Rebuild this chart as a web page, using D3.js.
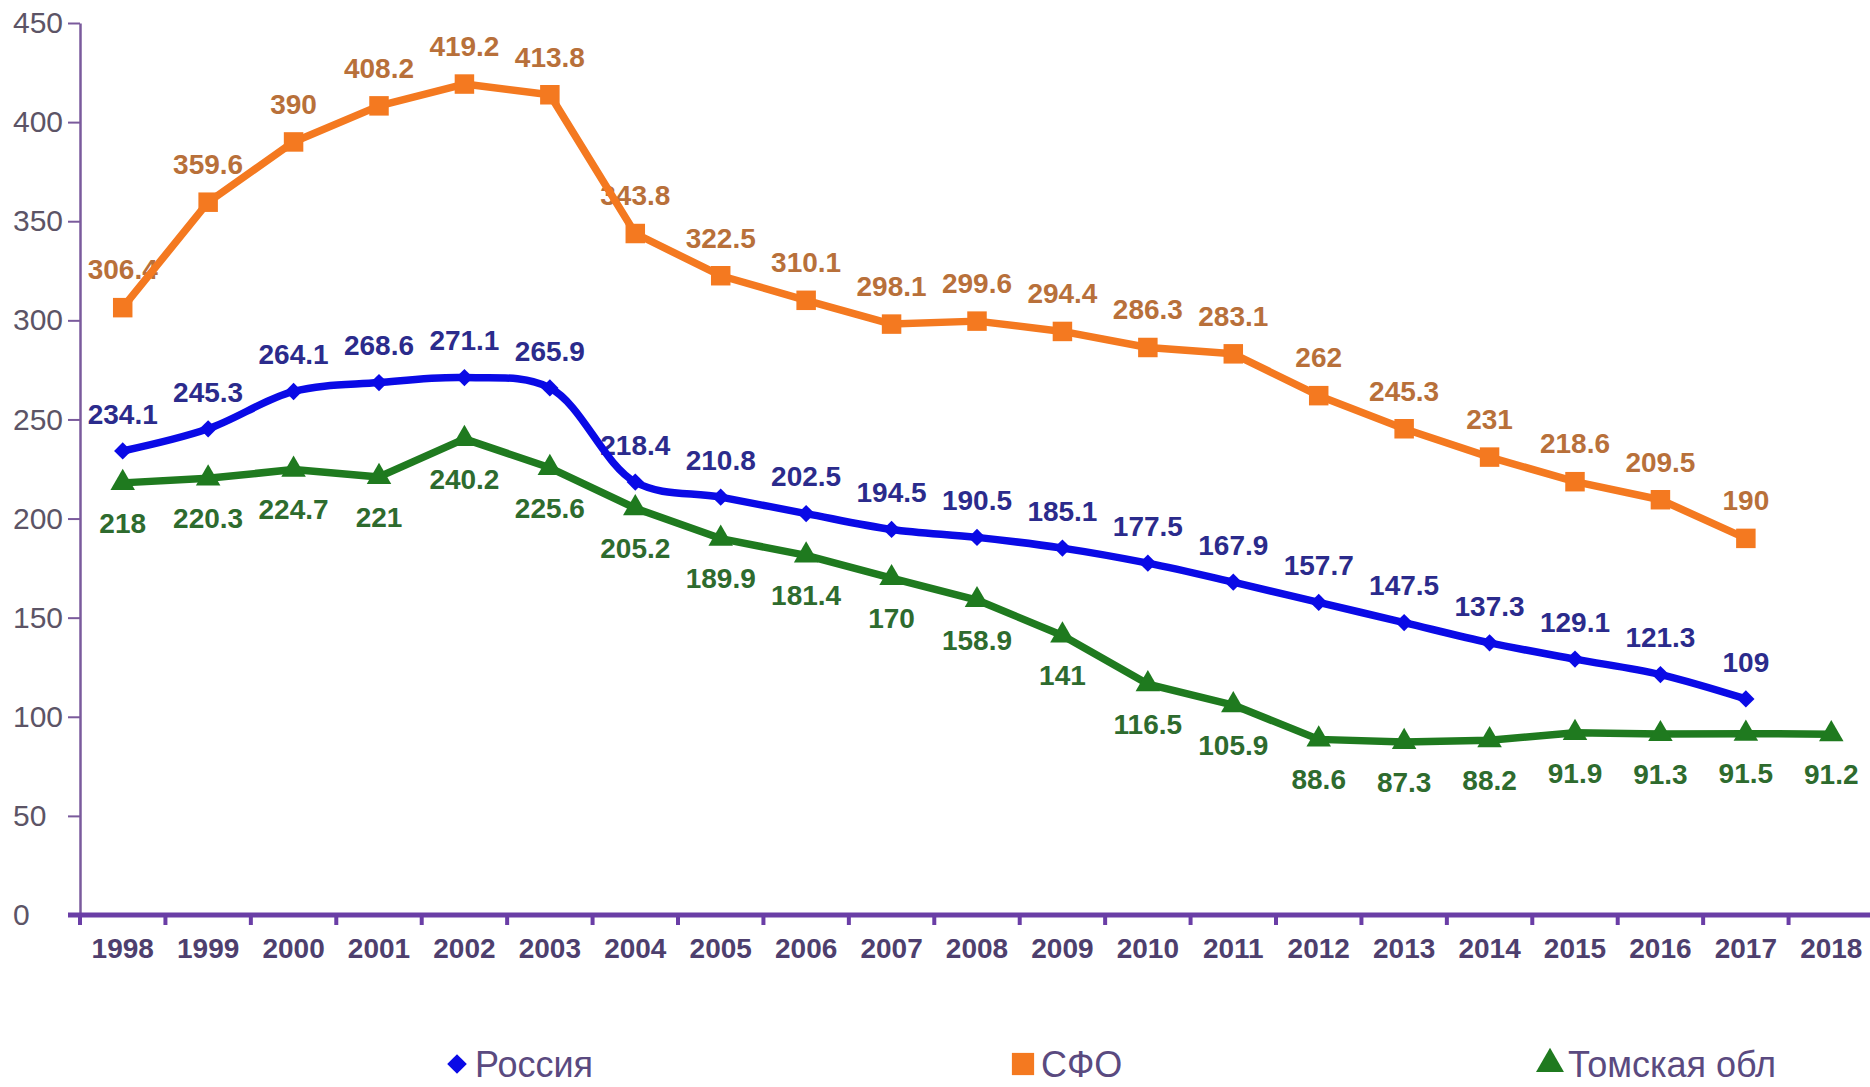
<!DOCTYPE html>
<html>
	<head>
		<meta charset="utf-8">
		<style type="text/css">
			body { margin: 0; background: #fff; }
			svg  { display: block; font-family: "Liberation Sans", Arial, sans-serif; }
			.domain { fill: none; }
		</style>
		<title>Россия / СФО / Томская обл</title>
	</head>
	<body>
		<script src="https://cdn.jsdelivr.net/npm/d3@7"></script>
		<script>

var years   = [1998, 1999, 2000, 2001, 2002, 2003, 2004, 2005, 2006, 2007, 2008, 2009, 2010, 2011, 2012, 2013, 2014, 2015, 2016, 2017, 2018];
var russia  = [234.1, 245.3, 264.1, 268.6, 271.1, 265.9, 218.4, 210.8, 202.5, 194.5, 190.5, 185.1, 177.5, 167.9, 157.7, 147.5, 137.3, 129.1, 121.3, 109, null];
var sfo     = [306.4, 359.6, 390, 408.2, 419.2, 413.8, 343.8, 322.5, 310.1, 298.1, 299.6, 294.4, 286.3, 283.1, 262, 245.3, 231, 218.6, 209.5, 190, null];
var tomsk   = [218, 220.3, 224.7, 221, 240.2, 225.6, 205.2, 189.9, 181.4, 170, 158.9, 141, 116.5, 105.9, 88.6, 87.3, 88.2, 91.9, 91.3, 91.5, 91.2];
var yTicks  = [0, 50, 100, 150, 200, 250, 300, 350, 400, 450];
var names   = ["Россия", "СФО", "Томская обл"];

var width = 1870, height = 1087;

var series = [
	{name: names[0], values: russia, line: "#0a0ae6", label: "#2b2b8c", symbol: d3.symbolDiamond2, size: 190, dy: -37, curve: d3.curveCatmullRom.alpha(0.5)},
	{name: names[1], values: sfo,    line: "#f47920", label: "#b8703a", symbol: d3.symbolSquare,  size: 380, dy: -38, curve: d3.curveLinear},
	{name: names[2], values: tomsk,  line: "#1f7a1f", label: "#2e6b2e", symbol: d3.symbolTriangle, size: 260, dy: 40, curve: d3.curveLinear},
];

var x = d3.scaleBand()
	.domain(years)
	.range([80, 1874]);

var y = d3.scaleLinear()
	.domain([0, 450])
	.range([915, 23]);

var svg = d3.select("body").append("svg")
	.attr("width", width)
	.attr("height", height);

svg.append("rect")
	.attr("width", width)
	.attr("height", height)
	.attr("fill", "#fff");

// y axis
var yAxis = d3.axisLeft(y)
	.tickValues(yTicks)
	.tickSize(12)
	.tickSizeOuter(0);
var gy = svg.append("g")
	.attr("transform", `translate(${x.range()[0]},0)`)
	.call(yAxis);
gy.select(".domain").attr("stroke", "#7a5a9c").attr("stroke-width", 2.5);
gy.selectAll(".tick line").attr("stroke", "#7a5a9c").attr("stroke-width", 2);
gy.selectAll(".tick text")
	.attr("x", -67)
	.attr("text-anchor", "start")
	.attr("font-size", 30)
	.attr("fill", "#5c5466");

// x axis: labels centred in bands, ticks on band edges
var xAxis = d3.axisBottom(x)
	.tickSize(0)
	.tickSizeOuter(0);
var gx = svg.append("g")
	.attr("transform", `translate(0,${y(0)})`)
	.call(xAxis);
gx.select(".domain")
	.attr("d", `M${x.range()[0] - 12},0H${width}`)
	.attr("stroke", "#6a3ea6")
	.attr("stroke-width", 5);
gx.selectAll(".tick text")
	.attr("y", 33)
	.attr("dy", "0.35em")
	.attr("font-size", 28)
	.attr("font-weight", "bold")
	.attr("fill", "#4e3f6e");

svg.append("g")
	.selectAll("line")
	.data(years)
	.join("line")
		.attr("x1", d => x(d))
		.attr("x2", d => x(d))
		.attr("y1", y(0))
		.attr("y2", y(0) + 10)
		.attr("stroke", "#6a3ea6")
		.attr("stroke-width", 4);

var cx = (d, i) => x(years[i]) + x.bandwidth() / 2;

// value labels (drawn first, lines overlap them as in the original)
for (let s of series) {
	svg.append("g")
		.selectAll("text")
		.data(s.values.map((v, i) => ({v: v, i: i})).filter(d => d.v != null))
		.join("text")
			.attr("x", d => cx(null, d.i))
			.attr("y", d => y(d.v) + s.dy)
			.attr("dy", "0.35em")
			.attr("text-anchor", "middle")
			.attr("font-size", 28)
			.attr("font-weight", "bold")
			.attr("fill", s.label)
			.text(d => d.v);
}

// lines and markers
for (let s of series) {
	let pts = s.values.map((v, i) => ({v: v, i: i})).filter(d => d.v != null);
	let line = d3.line()
		.x(d => cx(null, d.i))
		.y(d => y(d.v))
		.curve(s.curve);
	svg.append("path")
		.datum(pts)
		.attr("d", line)
		.attr("fill", "none")
		.attr("stroke", s.line)
		.attr("stroke-width", 7.5)
		.attr("stroke-linejoin", "round")
		.attr("stroke-linecap", "round");
	svg.append("g")
		.selectAll("path")
		.data(pts)
		.join("path")
			.attr("transform", d => `translate(${cx(null, d.i)},${y(d.v)})`)
			.attr("d", d3.symbol().type(s.symbol).size(s.size))
			.attr("fill", s.line);
}

// legend
var legendX = [457, 1023, 1550];
var legend = svg.append("g")
	.selectAll("g")
	.data(series)
	.join("g")
		.attr("transform", (d, i) => `translate(${legendX[i]},1064)`);
legend.append("path")
	.attr("d", d => d3.symbol().type(d.symbol).size(d.size * 1.3)())
	.attr("fill", d => d.line);
legend.append("text")
	.attr("x", 18)
	.attr("dy", "0.36em")
	.attr("font-size", 36)
	.attr("fill", "#5a4a80")
	.text(d => d.name);

		</script>
	</body>
</html>
